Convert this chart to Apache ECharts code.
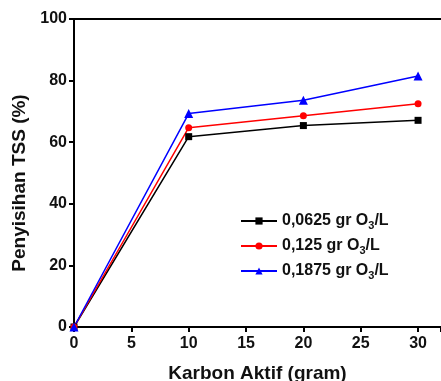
<!DOCTYPE html>
<html><head><meta charset="utf-8">
<script src="https://cdn.jsdelivr.net/npm/echarts@6/dist/echarts.min.js"></script>
<style>html,body{margin:0;padding:0;background:#fff}#c{width:441px;height:381px}</style>
</head><body><div id="c"></div>
<script>
const xValues = [0, 10, 20, 30];
const seriesNames = ['0,0625 gr O{sub|3}/L', '0,125 gr O{sub|3}/L', '0,1875 gr O{sub|3}/L'];
const s1 = [0, 61.8, 65.4, 67.1];
const s2 = [0, 64.7, 68.6, 72.5];
const s3 = [0, 69.3, 73.6, 81.5];
const colors = ['#000000', '#ff0000', '#0000ff'];
const symbols = ['rect', 'circle', 'triangle'];
const symSizes = [7, 7, 9];
const allData = [s1, s2, s3];

const font = 'Liberation Sans, Arial, sans-serif';
const chart = echarts.init(document.getElementById('c'));
chart.setOption({
  animation: false,
  grid: {left: 74, right: 0, top: 19, bottom: 54, containLabel: false, outerBoundsMode: 'none'},
  legend: {
    orient: 'vertical', left: 235, top: 208, itemGap: 7, itemWidth: 36, itemHeight: 9,
    data: seriesNames,
    textStyle: {fontFamily: font, fontWeight: 'bold', fontSize: 16, color: '#111',
      rich: {sub: {fontSize: 11, fontWeight: 'bold', fontFamily: font, verticalAlign: 'bottom', padding: [9,0,0,0]}}}
  },
  xAxis: [{
    type: 'value', min: 0, max: 32, interval: 5,
    name: 'Karbon Aktif (gram)', nameLocation: 'middle', nameGap: 37,
    nameTextStyle: {fontFamily: font, fontWeight: 'bold', fontSize: 19, color: '#111'},
    axisLine: {lineStyle: {color: '#000', width: 2}},
    axisTick: {length: 5, lineStyle: {width: 2, color: '#000'}},
    axisLabel: {fontFamily: font, fontWeight: 'bold', fontSize: 16, color: '#111', margin: 9,
      formatter: v => (v % 5 === 0 ? v : '')},
    splitLine: {show: false}
  }, {
    type: 'value', position: 'top', min: 0, max: 32,
    axisLine: {show: true, lineStyle: {color: '#000', width: 2}},
    axisTick: {show: false}, axisLabel: {show: false}, splitLine: {show: false}
  }],
  yAxis: {
    type: 'value', min: 0, max: 100, interval: 20,
    name: 'Penyisihan TSS (%)', nameLocation: 'middle', nameGap: 44,
    nameTextStyle: {fontFamily: font, fontWeight: 'bold', fontSize: 19, color: '#111', padding: [0, 20, 0, 0]},
    axisLine: {show: true, lineStyle: {color: '#000', width: 2}},
    axisTick: {show: true, length: 5, lineStyle: {width: 2, color: '#000'}},
    axisLabel: {fontFamily: font, fontWeight: 'bold', fontSize: 16, color: '#111', margin: 7},
    splitLine: {show: false}
  },
  series: allData.map((d, i) => ({
    name: seriesNames[i], type: 'line',
    data: d.map((v, j) => [xValues[j], v]),
    symbol: symbols[i], symbolSize: symSizes[i],
    itemStyle: {color: colors[i]},
    lineStyle: {color: colors[i], width: 1.5}
  }))
});
</script></body></html>
